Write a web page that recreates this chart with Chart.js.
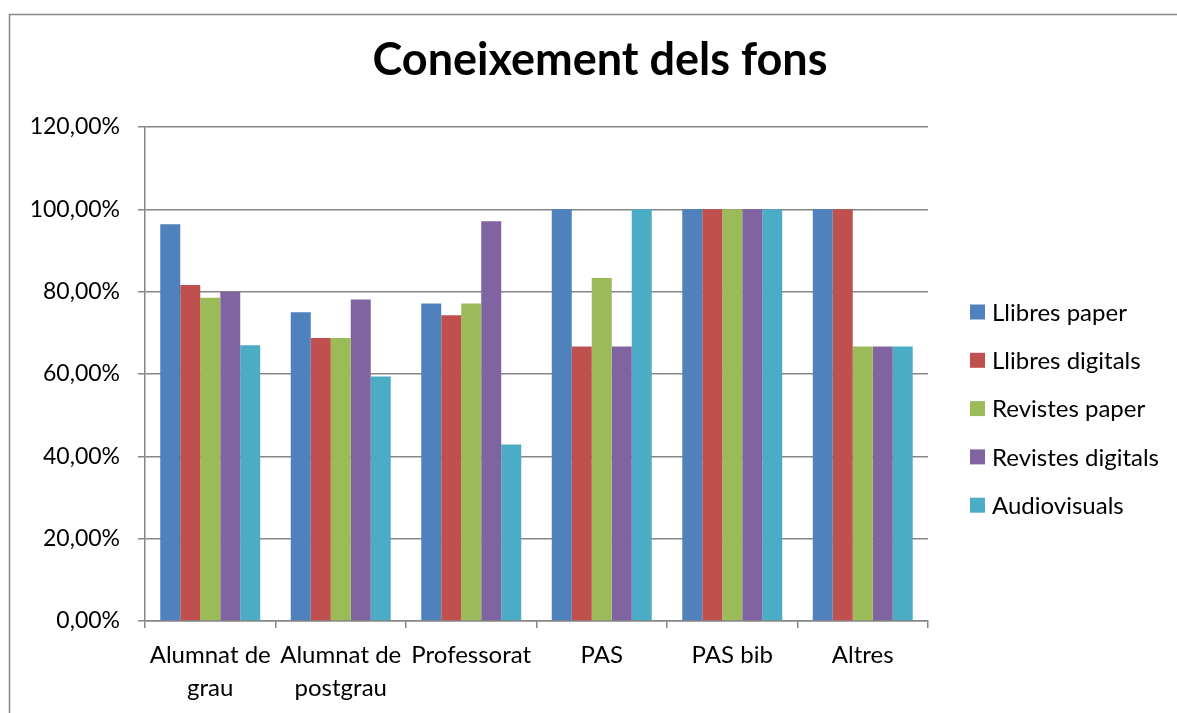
<!DOCTYPE html>
<html>
<head>
<meta charset="utf-8">
<script src="https://cdn.jsdelivr.net/npm/chart.js@4/dist/chart.umd.min.js"></script>
<style>
  html, body { margin: 0; padding: 0; background: #fff; }
  #wrap { position: relative; width: 1177px; height: 713px; }
</style>
</head>
<body>
<div id="wrap"><canvas id="chart" width="1177" height="713"></canvas></div>
<script>
const categories = [['Alumnat de', 'grau'], ['Alumnat de', 'postgrau'], 'Professorat', 'PAS', 'PAS bib', 'Altres'];
const seriesNames = ['Llibres paper', 'Llibres digitals', 'Revistes paper', 'Revistes digitals', 'Audiovisuals'];
const llibresPaper     = [96.4, 75.0, 77.1, 100, 100, 100];
const llibresDigitals  = [81.6, 68.75, 74.3, 66.7, 100, 100];
const revistesPaper    = [78.5, 68.75, 77.1, 83.3, 100, 66.7];
const revistesDigitals = [80.0, 78.1, 97.1, 66.7, 100, 66.7];
const audiovisuals     = [67.0, 59.4, 42.9, 100, 100, 66.7];
const colors = ['#4F81BD', '#C0504D', '#9BBB59', '#8064A2', '#4BACC6'];
const chartTitle = 'Coneixement dels fons';

const FONT = 'Lato, "Open Sans", sans-serif';
const GRID = '#868686';

const outerFrame = {
    id: 'outerFrame',
    beforeDraw(chart) {
        const c = chart.ctx;
        c.save();
        c.strokeStyle = GRID;
        c.lineWidth = 1.5;
        c.beginPath();
        c.moveTo(9.5, 713);
        c.lineTo(9.5, 14.5);
        c.lineTo(1177, 14.5);
        c.stroke();
        c.restore();
    }
};

// title + legend drawn by hand so they sit where Excel put them
const overlay = {
    id: 'overlay',
    afterDraw(chart) {
        const c = chart.ctx;
        c.save();
        c.fillStyle = '#000';
        c.textAlign = 'center';
        c.textBaseline = 'middle';
        c.font = 'bold 45px ' + FONT;
        c.fillText(chartTitle, 600, 60);

        c.font = '24px ' + FONT;
        c.textAlign = 'left';
        chart.data.datasets.forEach((ds, i) => {
            const cy = 312 + i * 48.3;
            c.fillStyle = ds.backgroundColor;
            c.fillRect(970, cy - 7.5, 15, 15);
            c.fillStyle = '#000';
            c.fillText(ds.label, 992, cy + 1);
        });
        c.restore();
    }
};

const series = [llibresPaper, llibresDigitals, revistesPaper, revistesDigitals, audiovisuals];

new Chart(document.getElementById('chart'), {
    type: 'bar',
    data: {
        labels: categories,
        datasets: series.map((vals, i) => ({
            label: seriesNames[i],
            data: vals,
            backgroundColor: colors[i],
            borderWidth: 0,
            categoryPercentage: 0.766,
            barPercentage: 1
        }))
    },
    options: {
        responsive: false,
        animation: false,
        layout: { padding: { left: 0, right: 249, top: 127, bottom: 0 } },
        plugins: {
            legend: { display: false },
            tooltip: { enabled: false },
            title: { display: false }
        },
        scales: {
            x: {
                afterFit(scale) { scale.height = 92; },
                grid: {
                    offset: true,
                    drawOnChartArea: false,
                    drawTicks: true,
                    tickLength: 7,
                    color: GRID,
                    lineWidth: 1.5
                },
                border: { color: GRID, width: 1.5 },
                ticks: {
                    color: '#000',
                    font: { family: FONT, size: 24, lineHeight: 1.375 },
                    padding: 11,
                    maxRotation: 0,
                    autoSkip: false
                }
            },
            y: {
                min: 0,
                max: 120,
                afterFit(scale) { scale.width = 145; },
                grid: {
                    color: GRID,
                    lineWidth: 1.5,
                    tickLength: 7
                },
                border: { color: GRID, width: 1.5 },
                ticks: {
                    stepSize: 20,
                    color: '#000',
                    padding: 18,
                    font: { family: FONT, size: 23 },
                    callback: v => v.toFixed(2).replace('.', ',') + '%'
                }
            }
        }
    },
    plugins: [outerFrame, overlay]
});
</script>
</body>
</html>
